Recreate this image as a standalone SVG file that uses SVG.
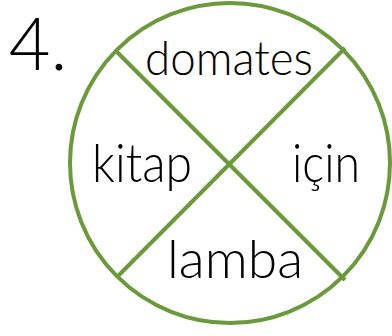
<svg xmlns="http://www.w3.org/2000/svg" width="392" height="336" viewBox="0 0 392 336">
<style>
.w{font-family:Lato,"Liberation Sans",sans-serif;font-weight:300;fill:#000;text-anchor:middle}
.g{fill:none;stroke:#6a9a3a;stroke-width:4}
</style>
<rect width="392" height="336" fill="#fff"/>
<g id="num"><text class="w" x="38" y="70" font-size="72">4.</text></g>
<g id="circle"><circle class="g" cx="230" cy="163" r="160"/></g>
<g id="connectors">
<line class="g" x1="115" y1="50" x2="345" y2="280"/>
<line class="g" x1="345" y1="48" x2="117" y2="277"/>
</g>
<g id="domates"><text class="w" x="229" y="75" font-size="48" textLength="168" lengthAdjust="spacingAndGlyphs">domates</text></g>
<g id="kitap"><text class="w" x="142" y="182" font-size="54" textLength="100" lengthAdjust="spacingAndGlyphs">kitap</text></g>
<g id="icin"><text class="w" x="326" y="182" font-size="54" textLength="68" lengthAdjust="spacingAndGlyphs">için</text></g>
<g id="lamba"><text class="w" x="235" y="278" font-size="54" textLength="136" lengthAdjust="spacingAndGlyphs">lamba</text></g>
</svg>
